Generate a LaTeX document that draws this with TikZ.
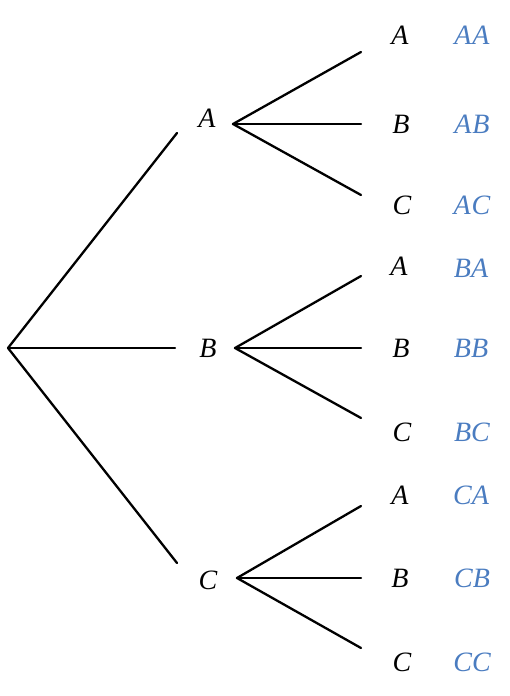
\documentclass[tikz,border=0pt]{standalone}
\usepackage{fontspec}
\setmainfont{Liberation Serif}
\definecolor{leafblue}{RGB}{74,124,192}
\tikzset{
  lbl/.style={font=\fontsize{28}{32}\selectfont\itshape, inner sep=0pt, anchor=center},
  res/.style={lbl, text=leafblue},
  edge/.style={line width=2.3pt, line cap=round, line join=round}
}
\begin{document}
\begin{tikzpicture}[x=1pt,y=-1pt]
\useasboundingbox (0,0) rectangle (510,696);
% root
\coordinate (r) at (8,348);
% level-1 ends of root branches
\coordinate (eA) at (177,133);
\coordinate (eB) at (175,348);
\coordinate (eC) at (177,563);
% level-1 labels
\node[lbl] (A) at (207,118) {A};
\node[lbl] (B) at (208,348) {B};
\node[lbl] (C) at (208,580) {C};
% level-1 branch points
\coordinate (pA) at (233,124);
\coordinate (pB) at (235,348);
\coordinate (pC) at (237,578);
% leaf line ends
\coordinate (aA) at (361,52);  \coordinate (aB) at (361,124); \coordinate (aC) at (361,195);
\coordinate (bA) at (361,276); \coordinate (bB) at (361,348); \coordinate (bC) at (361,418);
\coordinate (cA) at (361,506); \coordinate (cB) at (361,578); \coordinate (cC) at (361,648);
% leaf labels
\node[lbl] (AA1) at (400,35) {A};  \node[res] (AA) at (472,35) {A\kern1pt A};
\node[lbl] (AB1) at (401,124) {B}; \node[res] (AB) at (472,124) {A\kern1pt B};
\node[lbl] (AC1) at (402,205) {C}; \node[res] (AC) at (472,205) {A\kern1pt C};
\node[lbl] (BA1) at (399,266) {A}; \node[res] (BA) at (471,268) {BA};
\node[lbl] (BB1) at (401,348) {B}; \node[res] (BB) at (471,348) {BB};
\node[lbl] (BC1) at (402,432) {C}; \node[res] (BC) at (472,432) {BC};
\node[lbl] (CA1) at (400,495) {A}; \node[res] (CA) at (471,495) {CA};
\node[lbl] (CB1) at (400,578) {B}; \node[res] (CB) at (472,578) {CB};
\node[lbl] (CC1) at (402,662) {C}; \node[res] (CC) at (472,662) {CC};
% edges
\draw[edge] (eA) -- (r) -- (eC);
\draw[edge] (r) -- (eB);
\draw[edge] (aA) -- (pA) -- (aC);
\draw[edge] (pA) -- (aB);
\draw[edge] (bA) -- (pB) -- (bC);
\draw[edge] (pB) -- (bB);
\draw[edge] (cA) -- (pC) -- (cC);
\draw[edge] (pC) -- (cB);
\end{tikzpicture}
\end{document}
